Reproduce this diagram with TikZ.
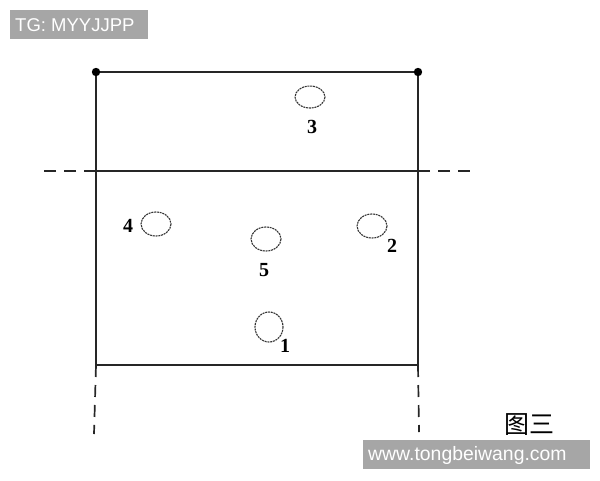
\documentclass[tikz,border=0pt]{standalone}
\usepackage{fontspec}
\setmainfont{Liberation Serif}
\newfontfamily\wmfont{Liberation Sans}
\newfontfamily\cjkfont{Noto Sans CJK SC}
\definecolor{wmgray}{HTML}{A6A6A6}
\begin{document}
\begin{tikzpicture}[x=1pt,y=-1pt,
  frame/.style={line width=1.7pt,black!85},
  dashline/.style={line width=1.7pt,black!85,dash pattern=on 12pt off 8pt},
  hole/.style={draw=black!80,line width=1.1pt,dash pattern=on 2pt off 0.8pt},
  num/.style={font=\bfseries\fontsize{20}{20}\selectfont,inner sep=0pt},
  wm/.style={fill=wmgray,text=white,inner sep=0pt,anchor=north west}
]
\useasboundingbox (0,0) rectangle (600,480);
% corners
\coordinate (tl) at (96,72);
\coordinate (tr) at (418,72);
\coordinate (ml) at (96,171);
\coordinate (mr) at (418,171);
\coordinate (bl) at (96,365);
\coordinate (br) at (418,365);
\coordinate (le) at (40,171);
\coordinate (re) at (476,171);
\coordinate (bld) at (94,434);
\coordinate (brd) at (419,432);
\draw[frame] (tl) -- (tr) -- (br) -- (bl) -- cycle;
\draw[frame] (ml) -- (mr);
\fill (tl) circle (4.2pt);
\fill (tr) circle (4.2pt);
\draw[dashline] (ml) -- (le);
\draw[dashline,line width=2.3pt] (mr) -- (re);
\draw[dashline] (bl) -- (bld);
\draw[dashline] (br) -- (brd);
% holes
\draw[hole] (310,97) ellipse (15 and 11);
\draw[hole] (156,224) ellipse (15 and 12);
\draw[hole] (266,239) ellipse (15 and 12);
\draw[hole] (372,226) ellipse (15 and 12);
\draw[hole] (269,327) ellipse (14 and 15);
\node[num] (n3) at (312,127) {3};
\node[num] (n4) at (128,226) {4};
\node[num] (n5) at (264,270) {5};
\node[num] (n2) at (392,246) {2};
\node[num] (n1) at (285,346) {1};
% caption
\node[inner sep=0pt,font=\cjkfont\fontsize{25}{25}\selectfont] (cap) at (529,425) {图三};
% watermarks
\node[wm,minimum width=138pt,minimum height=29pt] (wm1) at (10,10) {};
\node[anchor=west,text=white,inner sep=0pt,font=\wmfont\fontsize{18.5}{18.5}\selectfont] (wt1) at (15,25) {TG: MYYJJPP};
\node[wm,minimum width=227pt,minimum height=29pt] (wm2) at (363,440) {};
\node[anchor=west,text=white,inner sep=0pt,font=\wmfont\fontsize{19.4}{19.4}\selectfont] (wt2) at (368,455) {www.tongbeiwang.com};
\end{tikzpicture}
\end{document}
